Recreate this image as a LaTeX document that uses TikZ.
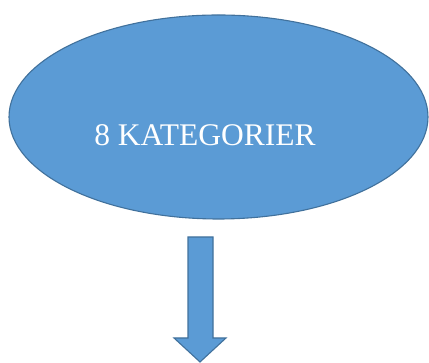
\documentclass[tikz,border=0pt]{standalone}
\usepackage{fontspec}
\setmainfont{Liberation Serif}
\usetikzlibrary{shapes.geometric}
\definecolor{officeblue}{HTML}{5B9BD5}
\definecolor{officeline}{HTML}{41719C}
\tikzset{
            blob/.style={ellipse, draw=officeline, fill=officeblue, line width=1.1pt,
                         minimum width=419pt, minimum height=204pt, inner sep=0pt},
            label text/.style={text=white, font=\fontsize{31.5}{36}\selectfont, inner sep=0pt}
        }

\begin{document}
\begin{tikzpicture}[x=1pt,y=1pt]
                \useasboundingbox (0,0) rectangle (429,363);
                \node[blob] (oval) at (218.5,246) {};
                \node[label text, anchor=base] (kat) at (205,217) {8 KATEGORIER};
                % block arrow under the oval
                \coordinate (shafttop) at (200.5,126);
                \draw[officeline, fill=officeblue, line width=1.1pt, line join=miter]
                    ([xshift=-12.5]shafttop) -- ([xshift=12.5]shafttop)
                    -- ++(0,-101) -- ++(13,0) -- (200,1) -- (174,25) -- (188,25) -- cycle;
            \end{tikzpicture}
\end{document}
